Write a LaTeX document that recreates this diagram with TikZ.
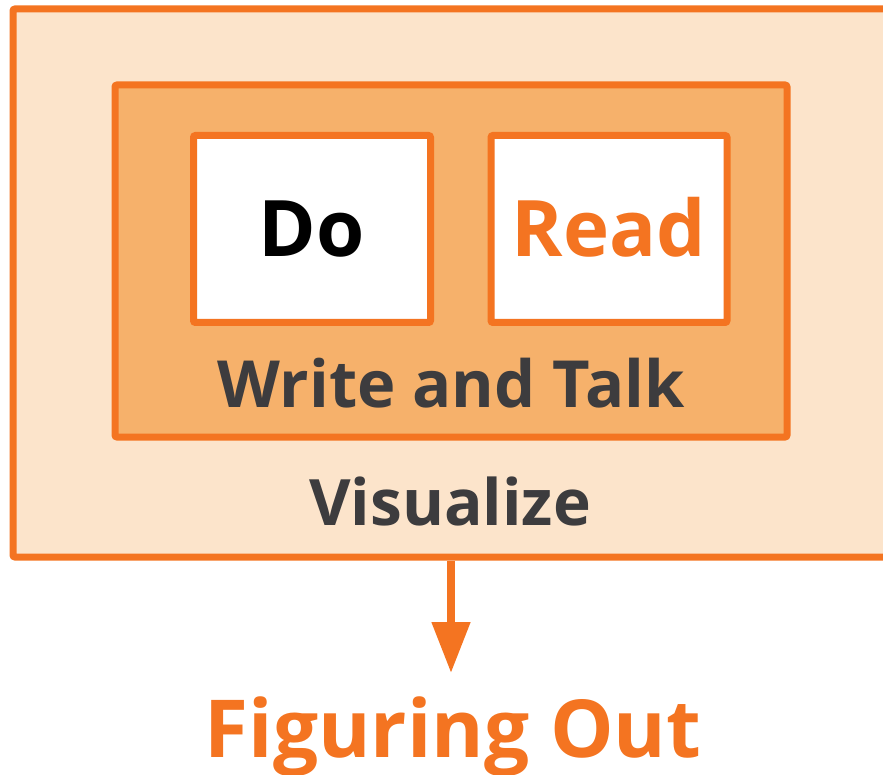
\documentclass[tikz,border=0pt]{standalone}
\usepackage{fontspec}
\setmainfont{Open Sans}
\usepackage{xcolor}
\usetikzlibrary{positioning, arrows.meta}
\definecolor{orangeline}{HTML}{F47421}
\definecolor{outerfill}{HTML}{FCE4CB}
\definecolor{innerfill}{HTML}{F6B16B}
\definecolor{labelgray}{HTML}{3D3C3E}

\begin{document}
\begin{tikzpicture}
          [x=1pt, y=-1pt, font=\bfseries,
           box/.style={draw=orangeline, line width=7pt, rounded corners=2pt, inner sep=0pt},
           label/.style={anchor=base, inner sep=0pt, text=labelgray}]
            \useasboundingbox (0,0) rectangle (883,775);
            \node (Visualize) [box, fill=outerfill, minimum width=880pt, minimum height=548pt] at (453,283) {};
            \node (WriteTalk) [box, fill=innerfill, minimum width=672pt, minimum height=352pt] at (451,261) {};
            \node (Do) [box, fill=white, minimum width=237pt, minimum height=187pt] at (312,229) {};
            \node (Read) [box, fill=white, minimum width=236pt, minimum height=187pt] at (609,229) {};
            \node (DoText) [label, text=black, font=\fontsize{78}{80}\selectfont\bfseries] at (312,257) {Do};
            \node (ReadText) [label, text=orangeline, font=\fontsize{78}{80}\selectfont\bfseries] at (609,257) {Read};
            \node (WriteTalkText) [label, font=\fontsize{65}{67}\selectfont\bfseries] at (451,407) {Write and Talk};
            \node (VisualizeText) [label, font=\fontsize{64}{66}\selectfont\bfseries] at (450,525) {Visualize};
            \node (Figuring) [label, text=orangeline, font=\fontsize{80}{82}\selectfont\bfseries] at (453,757) {Figuring Out};
            \coordinate (Tip) at (451,673);
            \draw [-{Triangle[width=37pt, length=51pt]}, line width=8pt, orangeline]
              (Tip |- Visualize.south) -- (Tip);
        \end{tikzpicture}
\end{document}
